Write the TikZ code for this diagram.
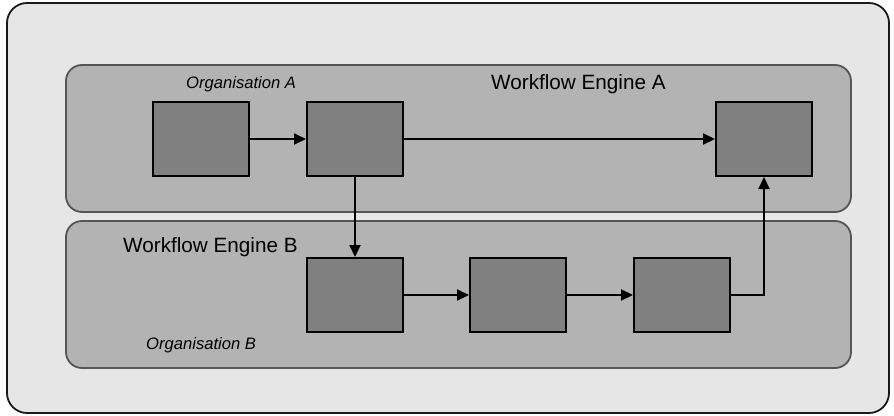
\documentclass[tikz,border=0pt]{standalone}
\usepackage{fontspec}
\setmainfont{Liberation Sans}
\usetikzlibrary{arrows.meta}
\definecolor{outerfill}{HTML}{E6E6E6}
\definecolor{panelfill}{HTML}{B3B3B3}
\definecolor{panelline}{HTML}{555555}
\definecolor{boxfill}{HTML}{808080}
\begin{document}
\begin{tikzpicture}[x=1pt,y=-1pt,
  outerbox/.style={draw=black!90,line width=1.8pt,fill=outerfill,rounded corners=20pt},
  panel/.style={draw=panelline,line width=1.8pt,fill=panelfill,rounded corners=16pt},
  task/.style={draw=black,line width=2pt,fill=boxfill,minimum width=96pt,minimum height=74pt,inner sep=0pt},
  flow/.style={draw=black,line width=2pt,-{Triangle[length=12pt,width=11pt]}},
  bigtext/.style={font=\fontsize{20.7}{24}\selectfont,anchor=base west,inner sep=0pt},
  smalltext/.style={font=\fontsize{16.6}{20}\selectfont\itshape,anchor=base west,inner sep=0pt}]
\useasboundingbox (0,0) rectangle (894,415);
\path[outerbox] (7,3) rectangle (889,413);
\path[panel] (66,65) rectangle (851,212);
\path[panel] (66,221) rectangle (851,368);
\node[task] (a1) at (201,139) {};
\node[task] (a2) at (355,139) {};
\node[task] (a3) at (764,139) {};
\node[task] (b1) at (355,295) {};
\node[task] (b2) at (518,295) {};
\node[task] (b3) at (682,295) {};
\coordinate (turn) at (764,295);
\node[smalltext] (orgA) at (186,88) {Organisation A};
\node[bigtext] (wfA) at (491,89) {Workflow Engine A};
\node[bigtext] (wfB) at (123,252) {Workflow Engine B};
\node[smalltext] (orgB) at (146,349) {Organisation B};
\draw[flow] (a1) -- (a2);
\draw[flow] (a2) -- (a3);
\draw[flow] (a2) -- (b1);
\draw[flow] (b1) -- (b2);
\draw[flow] (b2) -- (b3);
\draw[flow] (b3.east) -- (turn) -- (a3.south);
\end{tikzpicture}
\end{document}
